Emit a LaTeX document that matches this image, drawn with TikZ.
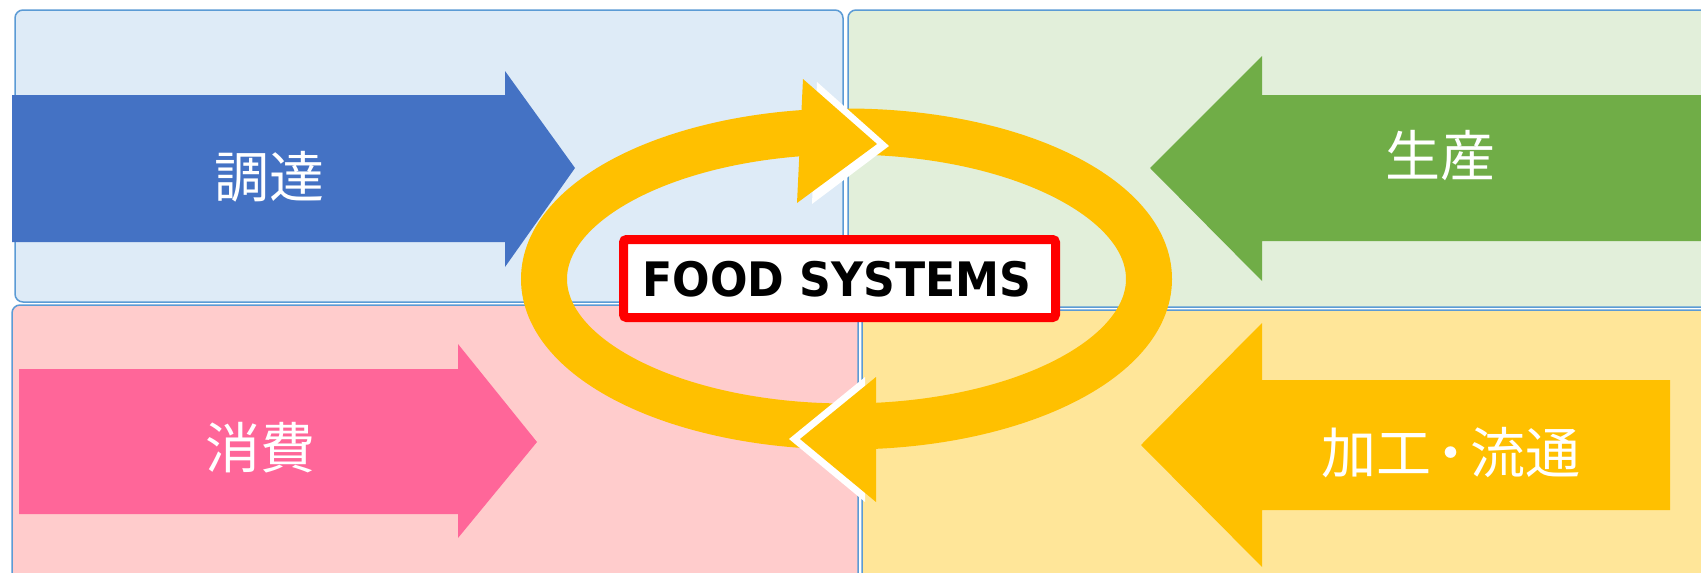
\documentclass[tikz,border=0pt]{standalone}
\usepackage{fontspec}
\newfontfamily\cjk{Noto Sans CJK JP}
\newfontfamily\fsfont[FakeStretch=0.93]{DejaVu Sans}
\definecolor{bluebox}{HTML}{DEEBF7}
\definecolor{greenbox}{HTML}{E2EFDA}
\definecolor{pinkbox}{HTML}{FFCCCC}
\definecolor{goldbox}{HTML}{FFE699}
\definecolor{panelline}{HTML}{5B9BD5}
\definecolor{arrblue}{HTML}{4472C4}
\definecolor{arrgreen}{HTML}{70AD47}
\definecolor{arrpink}{HTML}{FF6699}
\definecolor{ringgold}{HTML}{FFC000}
\definecolor{fsred}{HTML}{FF0000}
\begin{document}
\begin{tikzpicture}[x=1pt,y=-1pt,
  panel/.style={draw=panelline, line width=1.5pt, rounded corners=8pt},
  jp/.style={font=\cjk\fontsize{55}{60}\selectfont, text=white, inner sep=0pt},
  ring/.style={draw=ringgold, line width=46pt},
  fsbox/.style={draw=fsred, fill=white, line width=9pt, rounded corners=3pt,
    minimum width=432pt, minimum height=78pt, inner sep=0pt},
  fstxt/.style={font=\fsfont\bfseries\fontsize{47.5}{50}\selectfont, text=black, inner sep=0pt}]
\useasboundingbox (0,0) rectangle (1701,573);
\fill[white] (0,0) rectangle (1701,573);
\begin{scope}
\clip (0,0) rectangle (1701,573);
% panels
\draw[panel, fill=bluebox] (15,10) rectangle (843,302);
\draw[panel, fill=greenbox] (848,10) rectangle (1730,307);
\draw[panel, fill=pinkbox] (12,305) rectangle (858,600);
\draw[panel, fill=goldbox] (862,310) rectangle (1730,600);
% big arrows
\fill[arrblue] (12,95) -- (505,95) -- (505,71) -- (575,168) -- (505,267) -- (505,242) -- (12,242) -- cycle;
\fill[arrgreen] (1710,95) -- (1262,95) -- (1262,56) -- (1150,168) -- (1262,281) -- (1262,241) -- (1710,241) -- cycle;
\fill[arrpink] (19,369) -- (458,369) -- (458,344) -- (537,442) -- (458,538) -- (458,514) -- (19,514) -- cycle;
\fill[ringgold] (1670,380) -- (1262,380) -- (1262,323) -- (1141,445) -- (1262,567) -- (1262,510) -- (1670,510) -- cycle;
\end{scope}
% labels
\node[jp] (t1) at (269,177) {調達};
\node[jp] (t2) at (1440,156) {生産};
\node[jp] (t3) at (260,448) {消費};
\node[jp] (t4) at (1451,453) {加工\hspace{-8pt}・\hspace{-8pt}流通};
% cycle ring
\draw[ring] (846.5,279) ellipse [x radius=302.5pt, y radius=147.5pt];
\fill[white] (817,82) -- (889,146) -- (812,204) -- cycle;
\fill[ringgold] (803,79) -- (877,144) -- (797,203) -- cycle;
\fill[white] (865,377) -- (789,439) -- (865,502) -- cycle;
\fill[ringgold] (876,377) -- (800,439) -- (876,502) -- cycle;
% center label
\node[fsbox] (fs) at (839.5,278.5) {};
\node[fstxt, anchor=base] (fstext) at (837,296) {FOOD SYSTEMS};
\end{tikzpicture}
\end{document}
